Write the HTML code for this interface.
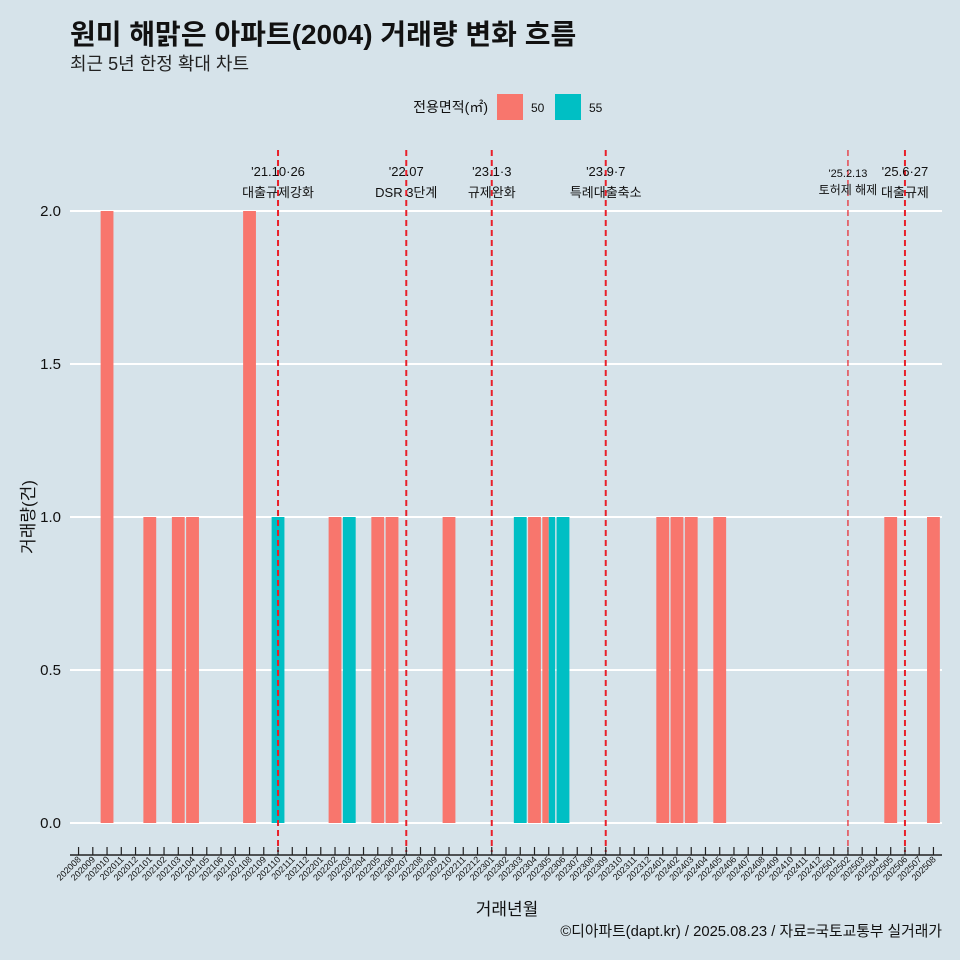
<!DOCTYPE html>
<html><head><meta charset="utf-8">
<style>
body{margin:0;background:#d6e3ea;}
svg{display:block;font-family:"Liberation Sans","Noto Sans CJK KR",sans-serif;}
</style></head>
<body>
<svg id="c" width="960" height="960" viewBox="0 0 960 960">
<rect width="960" height="960" fill="#d6e3ea"/>
<text x="70" y="44" font-size="28" font-weight="bold" fill="#111">원미 해맑은 아파트(2004) 거래량 변화 흐름</text>
<text x="70" y="70" font-size="18" fill="#222">최근 5년 한정 확대 차트</text>
<g>
<text x="488" y="112" font-size="14" text-anchor="end" fill="#111">전용면적(㎡)</text>
<rect x="497" y="94" width="26" height="26" fill="#f8766d"/>
<text x="531" y="112" font-size="12" fill="#111">50</text>
<rect x="555" y="94" width="26" height="26" fill="#00bfc4"/>
<text x="589" y="112" font-size="12" fill="#111">55</text>
</g>
<g id="grid"></g><g id="bars"></g><g id="events"></g><g id="axes"></g>
<text x="507" y="915" font-size="17" text-anchor="middle" fill="#111">거래년월</text>
<text transform="translate(34,517) rotate(-90)" font-size="17" text-anchor="middle" fill="#111">거래량(건)</text>
<text x="942" y="936" font-size="14.8" text-anchor="end" fill="#111">©디아파트(dapt.kr) / 2025.08.23 / 자료=국토교통부 실거래가</text>
</svg>
<script>
const months=[];for(let y=2020;y<=2025;y++)for(let m=1;m<=12;m++){const k=y*100+m;if(k>=202008&&k<=202508)months.push(String(k));}
const series50Months=["202010","202101","202103","202104","202108","202202","202205","202206","202210","202304","202305","202401","202402","202403","202405","202505","202508"];
const series50Values=[2,1,1,1,2,1,1,1,1,1,1,1,1,1,1,1,1];
const series55Months=["202110","202203","202303","202305","202306"];
const series55Values=[1,1,1,1,1];
const yTicks=[0,0.5,1,1.5,2];
const yTickLabels=["0.0","0.5","1.0","1.5","2.0"];
const eventMonths=["202110","202207","202301","202309","202502","202506"];
const eventDates=["'21.10·26","'22.07","'23.1·3","'23.9·7","'25.2.13","'25.6·27"];
const eventNames=["대출규제강화","DSR 3단계","규제완화","특례대출축소","토허제 해제","대출규제"];

const NS="http://www.w3.org/2000/svg";
const L=70,R=942,step=(R-L)/(months.length-1+1.2);
const xC=m=>L+step*(0.6+months.indexOf(m));
const y=v=>823-v*306;
function mk(t,a,p){const e=document.createElementNS(NS,t);for(const k in a)e.setAttribute(k,a[k]);p.appendChild(e);return e;}
const grid=document.getElementById('grid'),bars=document.getElementById('bars'),ev=document.getElementById('events'),ax=document.getElementById('axes');
yTicks.forEach((t,i)=>{
 const l=mk('line',{x1:L,x2:R,y1:y(t),y2:y(t),stroke:'#fff','stroke-width':2},grid);
 
 
 const tx=mk('text',{x:61,y:y(t)+5,'font-size':15,'text-anchor':'end',fill:'#111'},ax);tx.textContent=yTickLabels[i];
 
 
});
const bw=step*0.9;
function drawSeries(ms,vs,col,other,side){
 ms.forEach((m,i)=>{
  const both=other.includes(m);const w=both?bw/2:bw;
  let x0=xC(m)-bw/2;if(both&&side===1)x0+=bw/2;
  const r=mk('rect',{x:x0,y:y(vs[i]),width:w,height:y(0)-y(vs[i]),fill:col},bars);
  
  
 });
}
drawSeries(series50Months,series50Values,'#f8766d',series55Months,0);
drawSeries(series55Months,series55Values,'#00bfc4',series50Months,1);
eventMonths.forEach((m,i)=>{
 const x=xC(m);const small=m==="202502";
 const l=mk('line',{x1:x,x2:x,y1:150,y2:852,stroke:'#e8202a','stroke-width':small?1.2:2,'stroke-dasharray':'6 4'},ev);
 
 
 const fs=small?11:13;
 const a=mk('text',{x:x,y:small?177:176,'font-size':fs,'text-anchor':'middle',fill:'#111'},ev);a.textContent=eventDates[i];
 
 
 const b=mk('text',{x:x,y:small?194:197,'font-size':fs+(small?1:0),'text-anchor':'middle',fill:'#111'},ev);b.textContent=eventNames[i];
 
 
});
const axl=mk('line',{x1:L,x2:R,y1:855,y2:855,stroke:'#222','stroke-width':1.5},ax);


months.forEach(m=>{
 const x=xC(m);
 const t=mk('line',{x1:x,x2:x,y1:847,y2:855,stroke:'#222','stroke-width':1.2},ax);
 
 
 const tx=mk('text',{transform:`translate(${x+3},${860}) rotate(-45)`,'font-size':9,'text-anchor':'end',fill:'#111'},ax);tx.textContent=m;
 
 
});
</script>
</body></html>
